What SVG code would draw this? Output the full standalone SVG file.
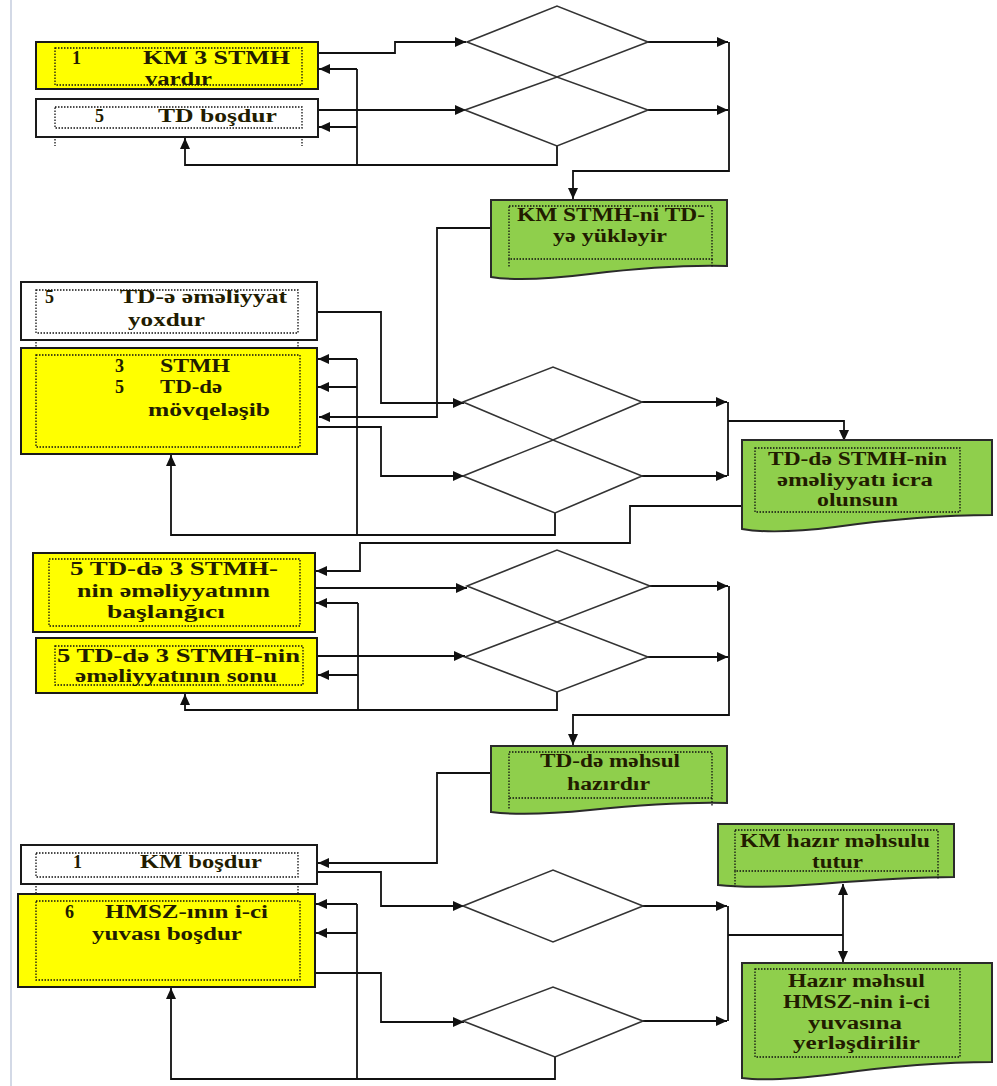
<svg xmlns="http://www.w3.org/2000/svg" width="997" height="1086" viewBox="0 0 997 1086">
<style>
.box{stroke:#1a1a1a;stroke-width:2}
.yel{fill:#ffff00}
.wht{fill:#ffffff}
.grn{fill:#8fcf4c;stroke:#2a2a2a;stroke-width:2}
.dot{fill:none;stroke:#111;stroke-width:1.3;stroke-dasharray:1.5 1.5}
.dia{fill:none;stroke:#333;stroke-width:1.6}
.c{fill:none;stroke:#111;stroke-width:1.8}
.ca{fill:none;stroke:#111;stroke-width:1.8;marker-end:url(#ah)}
.t{font-family:"Liberation Serif","Times New Roman",serif;font-weight:bold;font-size:18px;fill:#221c00}
</style>
<defs>
<marker id="ah" markerUnits="userSpaceOnUse" markerWidth="12" markerHeight="10" refX="11" refY="5" orient="auto">
<path d="M0,0 L11,5 L0,10 Z" fill="#111"/>
</marker>
</defs>
<rect x="0" y="0" width="997" height="1086" fill="#ffffff"/>
<line x1="11" y1="0" x2="11" y2="1086" stroke="#d3d9e6" stroke-width="2"/>

<g id="connectors">
<!-- section 1 -->
<path class="ca" d="M318,53 H395 V42 H466"/>
<path class="ca" d="M318,110 H466"/>
<path class="c" d="M357,165 V69"/>
<path class="ca" d="M357,69 H319"/>
<path class="ca" d="M357,127 H319"/>
<path class="ca" d="M557,146 V165 H185 V138"/>
<path class="ca" d="M648,42 H728"/>
<path class="ca" d="M648,110 H728"/>
<path class="ca" d="M729,42 V171 H573 V199"/>
<path class="ca" d="M491,228 H437 V417 H319"/>
<!-- section 2 -->
<path class="ca" d="M317,312 H381 V403 H464"/>
<path class="ca" d="M317,427 H381 V476 H464"/>
<path class="c" d="M357,535 V359"/>
<path class="ca" d="M357,359 H318"/>
<path class="ca" d="M357,387 H318"/>
<path class="ca" d="M555,513 V535 H171 V455"/>
<path class="ca" d="M642,402 H727"/>
<path class="ca" d="M642,476 H727"/>
<path class="c" d="M728,402 V476"/>
<path class="ca" d="M728,421 H844 V441"/>
<path class="ca" d="M742,506 H630 V543 H360 V571 H316"/>
<!-- section 3 -->
<path class="ca" d="M315,588 H467"/>
<path class="ca" d="M317,656 H465"/>
<path class="c" d="M358,710 V603"/>
<path class="ca" d="M358,603 H316"/>
<path class="ca" d="M358,675 H318"/>
<path class="ca" d="M557,692 V710 H185 V694"/>
<path class="ca" d="M650,586 H728"/>
<path class="ca" d="M648,657 H728"/>
<path class="ca" d="M729,586 V715 H573 V745"/>
<path class="ca" d="M491,773 H437 V863 H318"/>
<!-- section 4 -->
<path class="ca" d="M317,872 H381 V906 H464"/>
<path class="ca" d="M315,973 H381 V1022 H464"/>
<path class="c" d="M357,1079 V904"/>
<path class="ca" d="M357,904 H316"/>
<path class="ca" d="M357,933 H316"/>
<path class="ca" d="M555,1057 V1079 H171 V988"/>
<path class="ca" d="M643,906 H727"/>
<path class="ca" d="M643,1021 H727"/>
<path class="c" d="M728,906 V1021"/>
<path class="c" d="M728,935 H843"/>
<path class="ca" d="M843,935 V884"/>
<path class="ca" d="M843,935 V962"/>
</g>

<!-- diamonds -->
<g id="d1"><polygon class="dia" points="467,42 557,6 648,42 557,77"/></g>
<g id="d2"><polygon class="dia" points="465,110 557,77 648,110 557,146"/></g>
<g id="d3"><polygon class="dia" points="463,402 553,367 642,402 553,440"/></g>
<g id="d4"><polygon class="dia" points="463,476 553,440 642,476 555,513"/></g>
<g id="d5"><polygon class="dia" points="467,586 557,550 650,586 557,622"/></g>
<g id="d6"><polygon class="dia" points="465,657 557,622 648,657 557,692"/></g>
<g id="d7"><polygon class="dia" points="463,906 553,870 643,906 553,942"/></g>
<g id="d8"><polygon class="dia" points="463,1021 553,987 643,1021 555,1057"/></g>

<!-- section 1 boxes -->
<g id="n1">
<rect class="box yel" x="36" y="42" width="282" height="47"/>
<rect class="dot" x="55" y="48" width="247" height="37"/>
<text class="t"><tspan x="72" y="64">1</tspan><tspan x="143" y="64" textLength="147" lengthAdjust="spacingAndGlyphs">KM  3 STMH</tspan></text>
<text class="t" x="145" y="85" textLength="67" lengthAdjust="spacingAndGlyphs">vardır</text>
</g>
<g id="n2">
<rect class="box wht" x="36" y="99" width="282" height="38"/>
<rect class="dot" x="55" y="107" width="247" height="21"/>
<path class="dot" d="M55,139 V146 M302,139 V146"/>
<text class="t"><tspan x="95" y="122">5</tspan><tspan x="158" y="122" textLength="119" lengthAdjust="spacingAndGlyphs">TD  boşdur</tspan></text>
</g>
<g id="n3">
<path class="grn" d="M491,200 H727 V266 C690,265 640,268 590,274 C550,279 515,281 491,277 Z"/>
<rect class="dot" x="509" y="206" width="203" height="53"/>
<path class="dot" d="M509,259 V268 M712,259 V267"/>
<text class="t" x="517" y="221" textLength="188" lengthAdjust="spacingAndGlyphs">KM STMH-ni TD-</text>
<text class="t" x="553" y="242" textLength="114" lengthAdjust="spacingAndGlyphs">yə yükləyir</text>
</g>

<!-- section 2 boxes -->
<g id="n4">
<rect class="box wht" x="21" y="282" width="296" height="58"/>
<rect class="dot" x="36" y="290" width="262" height="43"/>
<path class="dot" d="M36,342 V348 M298,342 V348"/>
<text class="t"><tspan x="45" y="303">5</tspan><tspan x="120" y="303" textLength="167" lengthAdjust="spacingAndGlyphs">TD-ə əməliyyat</tspan></text>
<text class="t" x="128" y="326" textLength="77" lengthAdjust="spacingAndGlyphs">yoxdur</text>
</g>
<g id="n5">
<rect class="box yel" x="21" y="348" width="296" height="106"/>
<rect class="dot" x="36" y="355" width="264" height="92"/>
<text class="t"><tspan x="115" y="372">3</tspan><tspan x="160" y="372" textLength="70" lengthAdjust="spacingAndGlyphs">STMH</tspan></text>
<text class="t"><tspan x="115" y="393">5</tspan><tspan x="160" y="393" textLength="62" lengthAdjust="spacingAndGlyphs">TD-də</tspan></text>
<text class="t" x="148" y="416" textLength="122" lengthAdjust="spacingAndGlyphs">mövqeləşib</text>
</g>
<g id="n6">
<path class="grn" d="M742,440 H992 V515 C945,515 885,520 835,527 C795,532 765,533 742,529 Z"/>
<rect class="dot" x="755" y="448" width="205" height="64"/>
<text class="t" x="768" y="465" textLength="179" lengthAdjust="spacingAndGlyphs">TD-də STMH-nin</text>
<text class="t" x="777" y="486" textLength="156" lengthAdjust="spacingAndGlyphs">əməliyyatı icra</text>
<text class="t" x="817" y="506" textLength="81" lengthAdjust="spacingAndGlyphs">olunsun</text>
</g>

<!-- section 3 boxes -->
<g id="n7">
<rect class="box yel" x="33" y="553" width="282" height="79"/>
<rect class="dot" x="49" y="559" width="251" height="67"/>
<text class="t" x="70" y="575" textLength="208" lengthAdjust="spacingAndGlyphs">5  TD-də  3 STMH-</text>
<text class="t" x="77" y="597" textLength="193" lengthAdjust="spacingAndGlyphs">nin əməliyyatının</text>
<text class="t" x="107" y="618" textLength="118" lengthAdjust="spacingAndGlyphs">başlanğıcı</text>
</g>
<g id="n8">
<rect class="box yel" x="36" y="638" width="281" height="55"/>
<rect class="dot" x="55" y="646" width="248" height="39"/>
<text class="t" x="57" y="662" textLength="243" lengthAdjust="spacingAndGlyphs">5  TD-də  3 STMH-nin</text>
<text class="t" x="75" y="682" textLength="202" lengthAdjust="spacingAndGlyphs">əməliyyatının sonu</text>
</g>
<g id="n9">
<path class="grn" d="M491,746 H727 V803 C690,802 640,805 590,810 C550,814 515,815 491,812 Z"/>
<rect class="dot" x="509" y="752" width="203" height="46"/>
<path class="dot" d="M509,798 V810 M712,798 V806"/>
<text class="t" x="540" y="767" textLength="140" lengthAdjust="spacingAndGlyphs">TD-də məhsul</text>
<text class="t" x="567" y="790" textLength="83" lengthAdjust="spacingAndGlyphs">hazırdır</text>
</g>

<!-- section 4 boxes -->
<g id="n10">
<rect class="box wht" x="21" y="845" width="296" height="39"/>
<rect class="dot" x="36" y="853" width="262" height="24"/>
<path class="dot" d="M36,886 V894 M298,886 V894"/>
<text class="t"><tspan x="73" y="868">1</tspan><tspan x="140" y="868" textLength="122" lengthAdjust="spacingAndGlyphs">KM boşdur</tspan></text>
</g>
<g id="n11">
<rect class="box yel" x="18" y="894" width="297" height="93"/>
<rect class="dot" x="36" y="901" width="264" height="79"/>
<text class="t"><tspan x="65" y="918">6</tspan><tspan x="105" y="918" textLength="163" lengthAdjust="spacingAndGlyphs">HMSZ-ının i-ci</tspan></text>
<text class="t" x="92" y="940" textLength="150" lengthAdjust="spacingAndGlyphs">yuvası boşdur</text>
</g>
<g id="n12">
<path class="grn" d="M718,824 H954 V877 C915,877 870,880 820,884 C780,887 745,888 718,885 Z"/>
<rect class="dot" x="735" y="830" width="203" height="41"/>
<path class="dot" d="M735,871 V887 M938,871 V879"/>
<text class="t" x="740" y="847" textLength="190" lengthAdjust="spacingAndGlyphs">KM hazır məhsulu</text>
<text class="t" x="812" y="868" textLength="51" lengthAdjust="spacingAndGlyphs">tutur</text>
</g>
<g id="n13">
<path class="grn" d="M742,963 H992 V1062 C945,1062 885,1067 835,1074 C795,1079 765,1081 742,1078 Z"/>
<rect class="dot" x="755" y="969" width="205" height="88"/>
<text class="t" x="788" y="987" textLength="137" lengthAdjust="spacingAndGlyphs">Hazır məhsul</text>
<text class="t" x="783" y="1008" textLength="147" lengthAdjust="spacingAndGlyphs">HMSZ-nin i-ci</text>
<text class="t" x="808" y="1029" textLength="94" lengthAdjust="spacingAndGlyphs">yuvasına</text>
<text class="t" x="793" y="1049" textLength="127" lengthAdjust="spacingAndGlyphs">yerləşdirilir</text>
</g>
</svg>
